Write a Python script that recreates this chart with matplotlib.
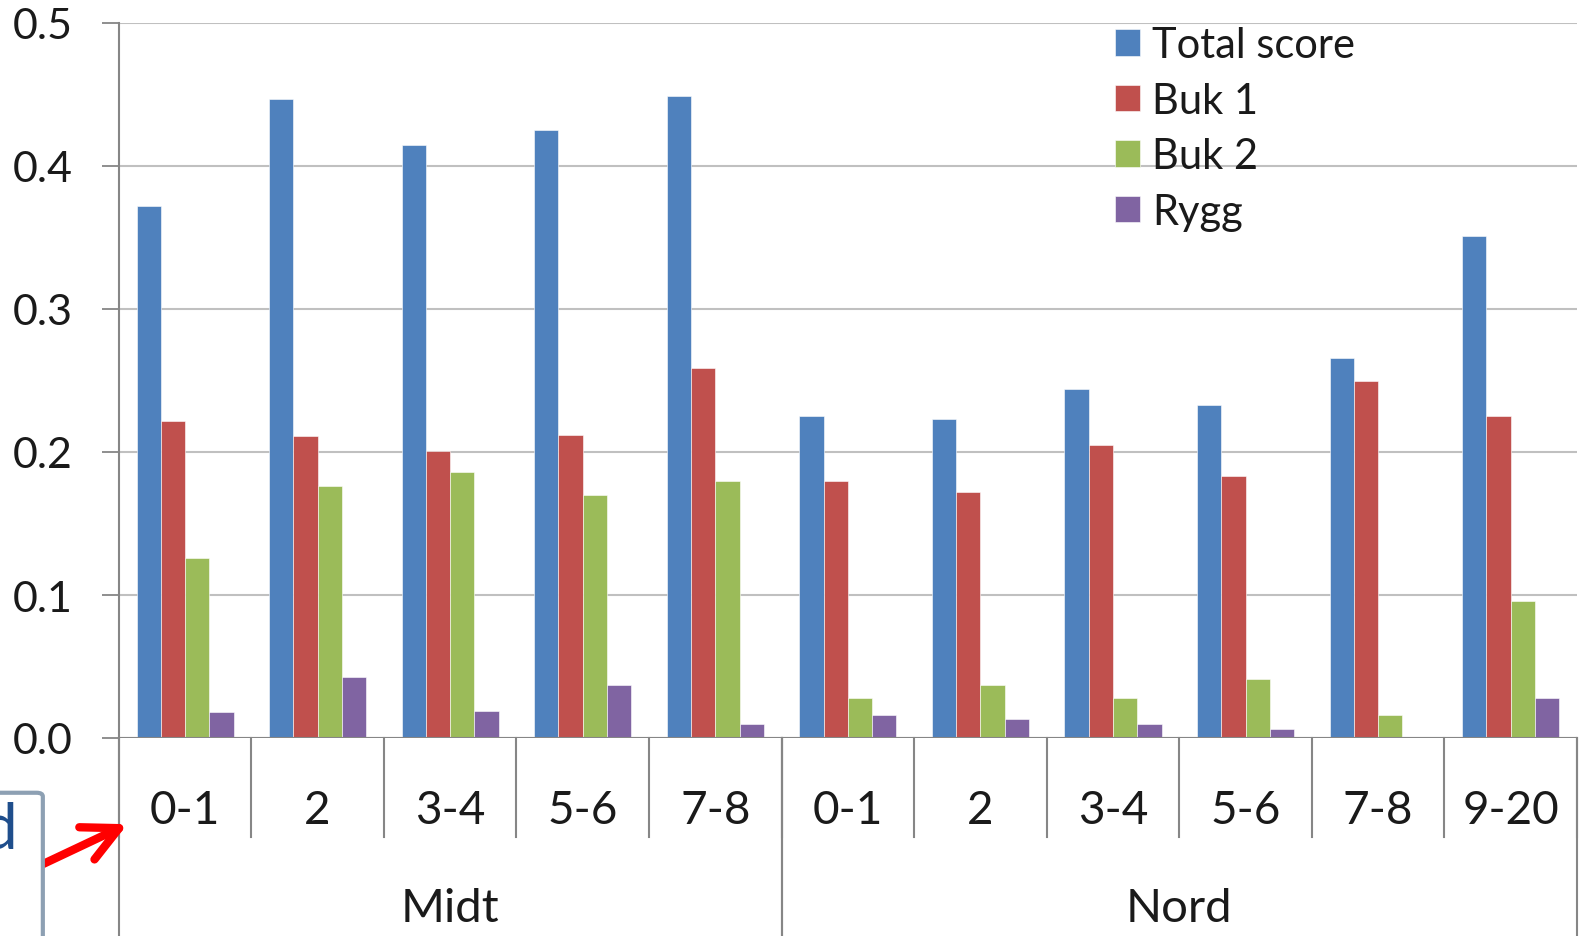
import numpy as np
import matplotlib
matplotlib.use("Agg")
import matplotlib.pyplot as plt
from matplotlib.patches import FancyBboxPatch, FancyArrowPatch
from matplotlib.transforms import blended_transform_factory

plt.rcParams['font.family'] = ['Lato', 'DejaVu Sans']

categories = ["0-1", "2", "3-4", "5-6", "7-8", "0-1", "2", "3-4", "5-6", "7-8", "9-20"]
groups = ["Midt", "Nord"]
group_sizes = [5, 6]

series_names = ["Total score", "Buk 1", "Buk 2", "Rygg"]
total_score = [0.372, 0.447, 0.415, 0.425, 0.449, 0.225, 0.223, 0.244, 0.233, 0.266, 0.351]
buk1 = [0.222, 0.211, 0.201, 0.212, 0.259, 0.180, 0.172, 0.205, 0.183, 0.250, 0.225]
buk2 = [0.126, 0.176, 0.186, 0.170, 0.180, 0.028, 0.037, 0.028, 0.041, 0.016, 0.096]
rygg = [0.018, 0.043, 0.019, 0.037, 0.010, 0.016, 0.013, 0.010, 0.006, 0.0, 0.028]

colors = ["#4F81BD", "#C0504D", "#9BBB59", "#8064A2"]
axis_col = "#868686"
text_col = "#1a1a1a"

W, H = 1584, 937
top_px, bot_px = 24.0, 739.0
fig = plt.figure(figsize=(W / 100, H / 100), dpi=100)
ax = fig.add_axes([118.75 / W, 1 - bot_px / H, (1577 - 118.75) / W, (bot_px - top_px) / H])


def ay(py):
    # pixel row -> axes fraction
    return (bot_px - py) / (bot_px - top_px)


x = np.arange(len(categories))
bw = 0.183
for i, (vals, name) in enumerate(zip([total_score, buk1, buk2, rygg], series_names)):
    ax.bar(x + (i - 1.5) * bw, vals, width=bw, color=colors[i], label=name,
           edgecolor="white", linewidth=0.4, zorder=3)

ax.set_xlim(-0.5, len(categories) - 0.5)
ax.set_ylim(0, 0.5)
ticks = np.arange(0, 0.51, 0.1)
ax.set_yticks(ticks)
ax.set_yticklabels([f"{v:.1f}" for v in ticks])
ax.yaxis.grid(True, color="#c0c0c0", linewidth=1.5, zorder=0)
ax.tick_params(axis="y", length=12, width=1.3, color=axis_col, pad=21, labelsize=31,
               labelcolor=text_col)
ax.tick_params(axis="x", length=0, labelbottom=False)
for s in ["top", "right", "bottom"]:
    ax.spines[s].set_visible(False)
ax.spines["left"].set_color(axis_col)
ax.spines["left"].set_linewidth(1.5)
ax.axhline(0, color=axis_col, linewidth=1.5, zorder=4)

# multi-level category axis
tr = blended_transform_factory(ax.transData, ax.transAxes)
n = len(categories)
for b in range(n + 1):
    xb = b - 0.5
    ax.plot([xb, xb], [0, ay(838)], transform=tr, color=axis_col, lw=1.5, clip_on=False)
for i, lab in enumerate(categories):
    ax.text(i, ay(811), lab, transform=tr, ha="center", va="center", fontsize=33, color=text_col)
start = 0
for g, size in zip(groups, group_sizes):
    for xb in (start - 0.5, start + size - 0.5):
        ax.plot([xb, xb], [0, ay(960)], transform=tr, color=axis_col, lw=1.5, clip_on=False)
    ax.text(start + (size - 1) / 2, ay(909), g, transform=tr, ha="center", va="center",
            fontsize=34, color=text_col)
    start += size

leg = ax.legend(loc="upper left", bbox_to_anchor=(1115 / W, 1 - 27 / H),
                bbox_transform=fig.transFigure, frameon=False, fontsize=30,
                handlelength=0.6, handleheight=0.6, handletextpad=0.3,
                labelspacing=0.42, borderpad=0, borderaxespad=0)
for t in leg.get_texts():
    t.set_color(text_col)

# partial annotation box and arrow at lower left
box = FancyBboxPatch((-60 / W, -40 / H), (60 + 42.5 - 6) / W, (937 - 791.5 + 40 - 6) / H,
                     boxstyle="round,pad=0.004,rounding_size=0.004",
                     transform=fig.transFigure, facecolor="white",
                     edgecolor="#8da0b3", linewidth=3, clip_on=False)
fig.patches.append(box)
fig.text(17 / W, 1 - 831 / H, "d", ha="right", va="center", fontsize=46, color="#1f4e8c")
fig.add_artist(FancyArrowPatch(
    (41 / W, 1 - 866 / H), (130 / W, 1 - 824 / H), transform=fig.transFigure,
    arrowstyle="->,head_length=16,head_width=8", color="#ff0000", linewidth=6,
    mutation_scale=1.6, capstyle="round", joinstyle="round"))

fig.savefig("out.png", dpi=100)
